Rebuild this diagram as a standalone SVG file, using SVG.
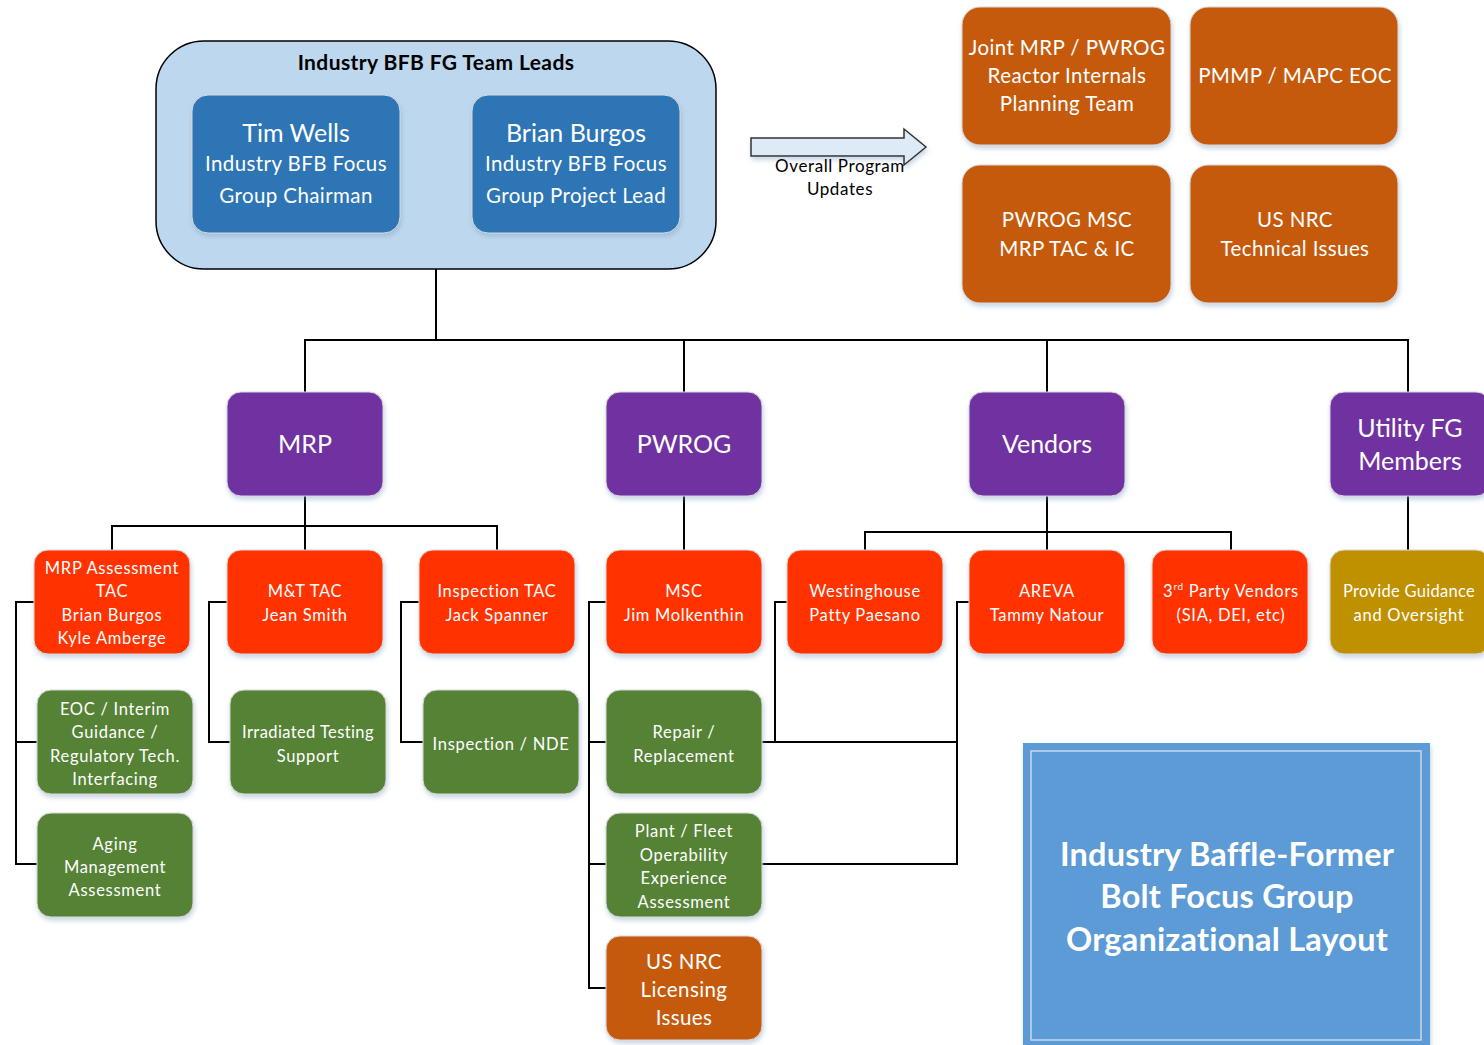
<svg xmlns="http://www.w3.org/2000/svg" width="1484" height="1045" viewBox="0 0 1484 1045">
<defs>
<filter id="sh" x="-10%" y="-10%" width="130%" height="130%">
<feDropShadow dx="1" dy="3" stdDeviation="2.5" flood-color="#7f9fc0" flood-opacity="0.45"/>
</filter>
</defs>
<style>
text{font-family:Lato,"Open Sans","Liberation Sans",sans-serif;fill:#fff;text-anchor:middle}
.box{filter:url(#sh);stroke:#d9d9d9;stroke-width:1}
.lead{fill:#2E75B6}
.org{fill:#C55A11}
.pur{fill:#7030A0}
.red{fill:#FF3300}
.grn{fill:#548235}
.gold{fill:#BF9000}
.t16{font-size:16.5px;letter-spacing:0.7px}
.t20{font-size:20.5px;letter-spacing:0.4px}
.t24{font-size:25px}
.con path{fill:none;stroke:#000;stroke-width:2}
</style>
<rect width="1484" height="1045" fill="#fff"/>

<g id="team-leads">
<rect x="156" y="41" width="560" height="228" rx="48" fill="#BDD7EE" stroke="#000" stroke-width="1.5"/>
<text x="436" y="70" style="font-size:21px;font-weight:bold;fill:#000;letter-spacing:0.4px">Industry BFB FG Team Leads</text>
</g>
<g id="tim-wells">
<rect class="box lead" x="192" y="95" width="208" height="138" rx="16"/>
<text x="296" y="142" class="t24">Tim Wells</text>
<text x="296" y="171" class="t20">Industry BFB Focus</text>
<text x="296" y="203" class="t20">Group Chairman</text>
</g>
<g id="brian-burgos">
<rect class="box lead" x="472" y="95" width="208" height="138" rx="16"/>
<text x="576" y="142" class="t24">Brian Burgos</text>
<text x="576" y="171" class="t20">Industry BFB Focus</text>
<text x="576" y="203" class="t20">Group Project Lead</text>
</g>

<g id="updates-arrow">
<path d="M751,138 H904 V129 L926,147 L904,165 V156 H751 Z" fill="#DEEBF7" stroke="#333" stroke-width="1.5" filter="url(#sh)"/>
<text x="840" y="172" style="font-size:17px;fill:#000;letter-spacing:0.6px">Overall Program</text>
<text x="840" y="195" style="font-size:17px;fill:#000;letter-spacing:0.6px">Updates</text>
</g>

<g id="joint-mrp-pwrog">
<rect class="box org" x="962" y="7" width="209" height="138" rx="18"/>
<text x="1067" y="55" class="t20">Joint MRP / PWROG</text>
<text x="1067" y="83" class="t20">Reactor Internals</text>
<text x="1067" y="111" class="t20">Planning Team</text>
</g>
<g id="pmmp-mapc">
<rect class="box org" x="1190" y="7" width="208" height="138" rx="18"/>
<text x="1295" y="83" class="t20">PMMP / MAPC EOC</text>
</g>
<g id="pwrog-msc">
<rect class="box org" x="962" y="165" width="209" height="138" rx="18"/>
<text x="1067" y="227" class="t20">PWROG MSC</text>
<text x="1067" y="256" class="t20">MRP TAC &amp; IC</text>
</g>
<g id="usnrc-tech">
<rect class="box org" x="1190" y="165" width="208" height="138" rx="18"/>
<text x="1295" y="227" class="t20">US NRC</text>
<text x="1295" y="256" class="t20">Technical Issues</text>
</g>

<g class="con" id="connectors">
<path d="M436,269 V340"/>
<path d="M305,392 V340 H1408 V392"/>
<path d="M684,340 V392"/>
<path d="M1047,340 V392"/>
<path d="M305,496 V550"/>
<path d="M112,550 V526 H497 V550"/>
<path d="M684,496 V550"/>
<path d="M1047,496 V550"/>
<path d="M865,550 V532 H1231 V550"/>
<path d="M1408,496 V550"/>
<path d="M34,602 H16 V864 H37"/>
<path d="M16,742 H37"/>
<path d="M227,602 H209 V742 H230"/>
<path d="M419,602 H401 V742 H423"/>
<path d="M606,602 H589 V988 H606"/>
<path d="M589,742 H606"/>
<path d="M589,864 H606"/>
<path d="M787,602 H775 V742"/>
<path d="M762,742 H957"/>
<path d="M969,602 H957 V864 H762"/>
</g>

<g id="mrp">
<rect class="box pur" x="227" y="392" width="156" height="104" rx="14"/>
<text x="305" y="453" class="t24">MRP</text>
</g>
<g id="pwrog">
<rect class="box pur" x="606" y="392" width="156" height="104" rx="14"/>
<text x="684" y="453" class="t24">PWROG</text>
</g>
<g id="vendors">
<rect class="box pur" x="969" y="392" width="156" height="104" rx="14"/>
<text x="1047" y="453" class="t24">Vendors</text>
</g>
<g id="utility">
<rect class="box pur" x="1330" y="392" width="160" height="104" rx="14"/>
<text x="1410" y="437" class="t24">Utility FG</text>
<text x="1410" y="470" class="t24">Members</text>
</g>

<g id="mrp-assessment">
<rect class="box red" x="34" y="550" width="156" height="104" rx="14"/>
<text x="112" y="574" class="t16">MRP Assessment</text>
<text x="112" y="597" class="t16">TAC</text>
<text x="112" y="621" class="t16">Brian Burgos</text>
<text x="112" y="644" class="t16">Kyle Amberge</text>
</g>
<g id="mt-tac">
<rect class="box red" x="227" y="550" width="156" height="104" rx="14"/>
<text x="305" y="597" class="t16">M&amp;T TAC</text>
<text x="305" y="621" class="t16">Jean Smith</text>
</g>
<g id="inspection-tac">
<rect class="box red" x="419" y="550" width="156" height="104" rx="14"/>
<text x="497" y="597" class="t16">Inspection TAC</text>
<text x="497" y="621" class="t16">Jack Spanner</text>
</g>
<g id="msc">
<rect class="box red" x="606" y="550" width="156" height="104" rx="14"/>
<text x="684" y="597" class="t16">MSC</text>
<text x="684" y="621" class="t16">Jim Molkenthin</text>
</g>
<g id="westinghouse">
<rect class="box red" x="787" y="550" width="156" height="104" rx="14"/>
<text x="865" y="597" class="t16">Westinghouse</text>
<text x="865" y="621" class="t16">Patty Paesano</text>
</g>
<g id="areva">
<rect class="box red" x="969" y="550" width="156" height="104" rx="14"/>
<text x="1047" y="597" class="t16">AREVA</text>
<text x="1047" y="621" class="t16">Tammy Natour</text>
</g>
<g id="third-party">
<rect class="box red" x="1152" y="550" width="156" height="104" rx="14"/>
<text x="1231" y="597" class="t16">3<tspan font-size="10" dy="-7">rd</tspan><tspan dy="7"> Party Vendors</tspan></text>
<text x="1231" y="621" class="t16">(SIA, DEI, etc)</text>
</g>
<g id="provide-guidance">
<rect class="box gold" x="1330" y="550" width="160" height="104" rx="14"/>
<text x="1409" y="597" class="t16" style="letter-spacing:0.3px">Provide Guidance</text>
<text x="1409" y="621" class="t16">and Oversight</text>
</g>

<g id="eoc-interim">
<rect class="box grn" x="37" y="690" width="156" height="104" rx="14"/>
<text x="115" y="715" class="t16">EOC / Interim</text>
<text x="115" y="738" class="t16">Guidance /</text>
<text x="115" y="762" class="t16">Regulatory Tech.</text>
<text x="115" y="785" class="t16">Interfacing</text>
</g>
<g id="aging">
<rect class="box grn" x="37" y="813" width="156" height="104" rx="14"/>
<text x="115" y="850" class="t16">Aging</text>
<text x="115" y="873" class="t16">Management</text>
<text x="115" y="896" class="t16">Assessment</text>
</g>
<g id="irradiated">
<rect class="box grn" x="230" y="690" width="156" height="104" rx="14"/>
<text x="308" y="738" class="t16" style="letter-spacing:0.4px">Irradiated Testing</text>
<text x="308" y="762" class="t16">Support</text>
</g>
<g id="inspection-nde">
<rect class="box grn" x="423" y="690" width="156" height="104" rx="14"/>
<text x="501" y="750" class="t16">Inspection / NDE</text>
</g>
<g id="repair">
<rect class="box grn" x="606" y="690" width="156" height="104" rx="14"/>
<text x="684" y="738" class="t16">Repair /</text>
<text x="684" y="762" class="t16">Replacement</text>
</g>
<g id="plant-fleet">
<rect class="box grn" x="606" y="813" width="156" height="104" rx="14"/>
<text x="684" y="837" class="t16">Plant / Fleet</text>
<text x="684" y="861" class="t16">Operability</text>
<text x="684" y="884" class="t16">Experience</text>
<text x="684" y="908" class="t16">Assessment</text>
</g>
<g id="usnrc-licensing">
<rect class="box org" x="606" y="936" width="156" height="104" rx="14"/>
<text x="684" y="969" class="t20">US NRC</text>
<text x="684" y="997" class="t20">Licensing</text>
<text x="684" y="1025" class="t20">Issues</text>
</g>

<g id="title">
<rect x="1023" y="743" width="407" height="310" fill="#5B9BD5" filter="url(#sh)"/>
<rect x="1031" y="751" width="390" height="289" fill="none" stroke="#c9d9ea" stroke-width="1.5"/>
<text x="1227" y="866" style="font-size:32.5px;font-weight:bold;letter-spacing:0.2px">Industry Baffle-Former</text>
<text x="1227" y="908" style="font-size:32.5px;font-weight:bold;letter-spacing:0.2px">Bolt Focus Group</text>
<text x="1227" y="951" style="font-size:32.5px;font-weight:bold;letter-spacing:0.2px">Organizational Layout</text>
</g>
</svg>
